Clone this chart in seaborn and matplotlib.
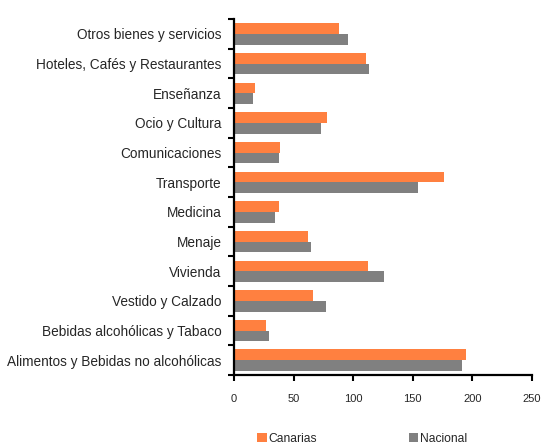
import pandas as pd
import matplotlib.pyplot as plt
import seaborn as sns
from matplotlib.ticker import FixedLocator

# Data
categorias = [
    "Otros bienes y servicios",
    "Hoteles, Cafés y Restaurantes",
    "Enseñanza",
    "Ocio y Cultura",
    "Comunicaciones",
    "Transporte",
    "Medicina",
    "Menaje",
    "Vivienda",
    "Vestido y Calzado",
    "Bebidas alcohólicas y Tabaco",
    "Alimentos y Bebidas no alcohólicas",
]
canarias = [88, 111, 18, 78, 39, 176, 38, 62, 112, 66, 27, 195]
nacional = [96, 113, 16, 73, 38, 154, 34, 65, 126, 77, 29, 191]
series = ["Canarias", "Nacional"]
colores = ["#FF8040", "#808080"]

df = pd.DataFrame({
    "categoria": categorias * 2,
    "valor": canarias + nacional,
    "serie": [series[0]] * len(categorias) + [series[1]] * len(categorias),
})

sns.set_style("white")
plt.rcParams["font.family"] = ["Liberation Sans", "DejaVu Sans"]

fig = plt.figure(figsize=(5.42, 4.44), dpi=100)
ax = fig.add_axes([0.4317, 0.1554, 0.55, 0.8016])

sns.barplot(data=df, x="valor", y="categoria", hue="serie", order=categorias,
            hue_order=series, palette=colores, orient="h", width=0.72,
            gap=0, saturation=1, linewidth=0, ax=ax, legend=True)

ax.set_xlim(0, 250)
ax.set_ylim(len(categorias) - 0.5, -0.5)
ax.set_xticks([0, 50, 100, 150, 200, 250])
ax.set_xlabel("")
ax.set_ylabel("")

# category ticks sit on the band boundaries
ax.yaxis.set_minor_locator(FixedLocator([i - 0.5 for i in range(len(categorias) + 1)]))
ax.tick_params(axis="y", which="major", length=0, pad=9, labelsize=9.8)
ax.tick_params(axis="y", which="minor", length=4, width=1.5, color="black", left=True)
ax.tick_params(axis="x", which="major", length=4, width=1.5, color="black",
               bottom=True, pad=10, labelsize=8)

for s in ["top", "right"]:
    ax.spines[s].set_visible(False)
for s in ["left", "bottom"]:
    ax.spines[s].set_color("black")
    ax.spines[s].set_linewidth(1.6)

handles, labels = ax.get_legend_handles_labels()
ax.get_legend().remove()
fig.legend(handles, labels, loc="center", bbox_to_anchor=(0.668, 0.012), ncol=2,
           frameon=False, fontsize=8.7, handlelength=0.8, handleheight=0.8,
           handletextpad=0.1, columnspacing=7.6)

fig.savefig("out.png", dpi=100)
